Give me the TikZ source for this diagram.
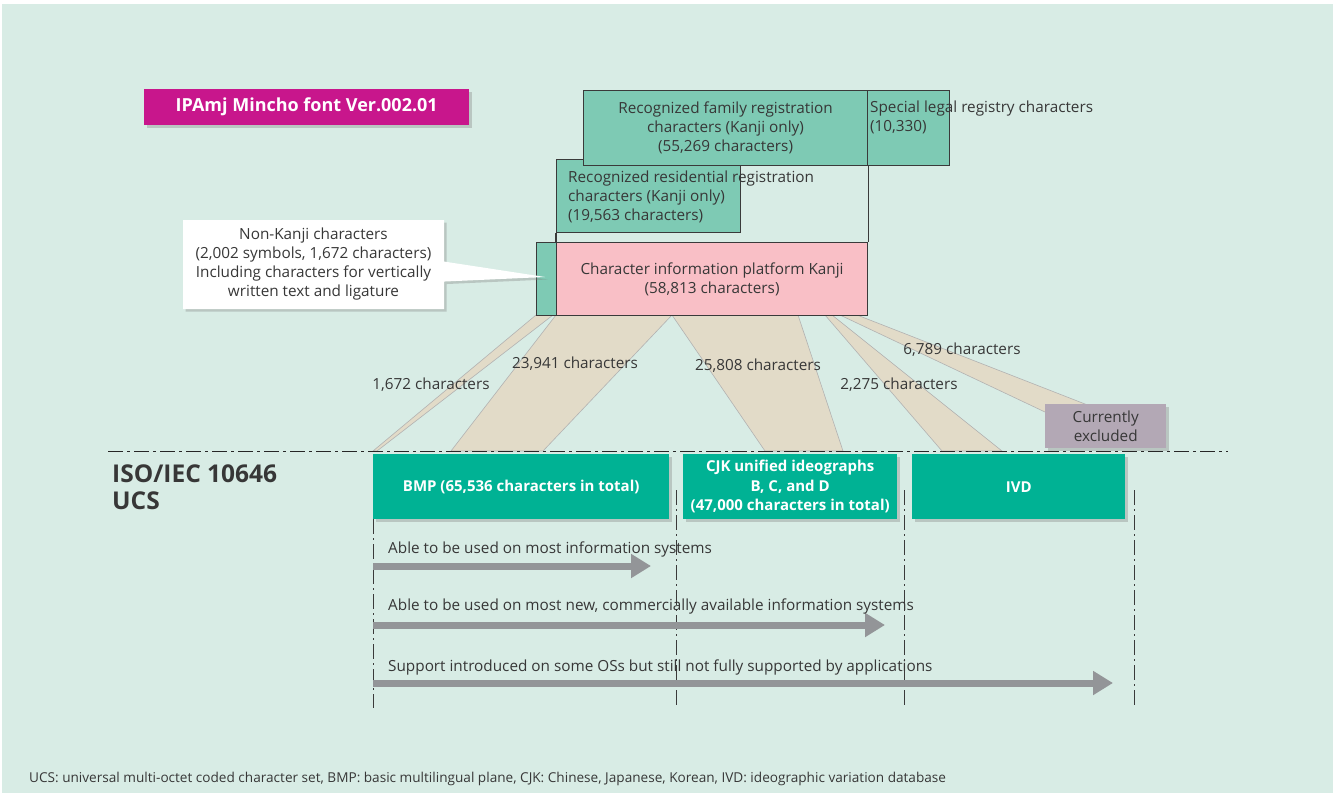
\documentclass[tikz,border=0pt]{standalone}
\usepackage{fontspec}
\setmainfont{Open Sans}
\usetikzlibrary{positioning,arrows.meta,shadows,shapes.callouts}

\definecolor{bgmint}{RGB}{216,236,229}
\definecolor{regteal}{RGB}{126,202,180}
\definecolor{kanjipink}{RGB}{249,191,198}
\definecolor{fanbeige}{RGB}{226,219,200}
\definecolor{ucsteal}{RGB}{0,178,148}
\definecolor{titlemag}{RGB}{200,22,140}
\definecolor{exclmauve}{RGB}{179,168,181}
\definecolor{txtgray}{RGB}{55,55,55}
\definecolor{arrgray}{RGB}{147,149,152}
\definecolor{edgegray}{RGB}{58,58,58}

\newcommand{\bodyfont}{\fontsize{15.3}{19}\selectfont}
\newcommand{\boxfont}{\fontsize{15}{19.5}\selectfont\bfseries}

\tikzset{
  x=1pt, y=-1pt,
  every node/.style={text=txtgray, font=\bodyfont, inner sep=0pt},
  shade/.style={drop shadow={shadow xshift=2.5pt, shadow yshift=-2.5pt, opacity=0.35}},
  regbox/.style={draw=edgegray, line width=1.1pt, fill=regteal, anchor=north west, align=center},
  ucsbox/.style={fill=ucsteal, shade, anchor=north west, align=center, text=white, font=\boxfont},
  fan/.style={fill=fanbeige, draw=black!30, line width=0.6pt},
  rangeline/.style={draw=edgegray, line width=0.9pt, dash pattern=on 15pt off 4pt on 2pt off 4pt},
  ucsline/.style={draw=black!85, line width=1pt, dash pattern=on 15pt off 4pt on 3pt off 4pt},
  support/.style={draw=arrgray, line width=7pt, -{Triangle[width=23pt,length=20pt]}},
  supportlabel/.style={anchor=west},
}

\begin{document}
\begin{tikzpicture}
	\useasboundingbox (0,0) rectangle (1335,793);
	\fill[white] (0,0) rectangle (1335,793);
	\fill[bgmint] (2,4) rectangle (1333,793);

	% flows from the font to the UCS ranges
	\fill[fan] (536,315) -- (553,315) -- (377,451) -- (373,451) -- cycle;
	\fill[fan] (556,315) -- (672,315) -- (543,451) -- (451,451) -- cycle;
	\fill[fan] (672,315) -- (798,315) -- (843,451) -- (765,451) -- cycle;
	\fill[fan] (825,315) -- (832,315) -- (1002,451) -- (942,451) -- cycle;
	\fill[fan] (840,315) -- (857,315) -- (1085,404) -- (1045,412) -- cycle;

	\draw[rangeline] (373,519) -- (373,708);
	\draw[rangeline] (676,490) -- (676,708);
	\draw[rangeline] (904,490) -- (904,708);
	\draw[rangeline] (1134,490) -- (1134,708);
	\draw[ucsline] (108,451) -- (1228,451);

	\node(title) [fill=titlemag, shade, anchor=north west, minimum width=325pt, minimum height=36pt,
	              text=white, font=\fontsize{18}{20}\selectfont\bfseries] at (144,89) {IPAmj Mincho font Ver.002.01};

	\node(res)   [regbox, minimum width=184pt, minimum height=73pt] at (556,159) {};
	\node(fam)   [regbox, minimum width=284pt, minimum height=75pt] at (583,90)
	             {Recognized family registration\\characters (Kanji only)\\(55,269 characters)};
	\node(legal) [regbox, minimum width=82pt, minimum height=75pt] at (867,90) {};
	\node(kanji) [regbox, fill=kanjipink, minimum width=311pt, minimum height=73pt] at (556,242)
	             {Character information platform Kanji\\(58,813 characters)};
	\node(nonk)  [regbox, minimum width=20pt, minimum height=73pt] at (536,242) {};

	\node[anchor=west, align=left] at (870,117.5) {Special legal registry characters\\(10,330)};
	\node[anchor=west, align=left] at (568,197) {Recognized residential registration\\characters (Kanji only)\\(19,563 characters)};

	\draw[edgegray, line width=1.1pt] (res.south west) -- (kanji.north west);
	\draw[edgegray, line width=1.1pt] (fam.south east) -- (kanji.north east);

	\coordinate (tip) at (545,277);
	\node(note) [rectangle callout, callout absolute pointer={(tip)}, callout pointer width=20pt,
	             fill=white, shade, minimum width=261pt, minimum height=89pt, align=center] at (313.5,264.5)
	            {Non-Kanji characters\\(2,002 symbols, 1,672 characters)\\Including characters for vertically\\written text and ligature};

	\node(c1) at (431,385) {1,672 characters};
	\node(c2) at (575,364) {23,941 characters};
	\node(c3) at (758,366) {25,808 characters};
	\node(c4) at (899,385) {2,275 characters};
	\node(c5) at (962,350) {6,789 characters};

	\node(excl) [fill=exclmauve, shade, anchor=north west, minimum width=121pt, minimum height=44pt, align=center]
	            at (1045,404) {Currently\\excluded};

	\node(iso) [anchor=west, align=left, font=\fontsize{24.5}{27}\selectfont\bfseries] at (112,487.5) {ISO/IEC 10646\\UCS};

	\node(bmp) [ucsbox, minimum width=296pt, minimum height=65pt] at (373,454) {BMP (65,536 characters in total)};
	\node(cjk) [ucsbox, minimum width=214pt, minimum height=65pt] at (683,454)
	           {CJK unified ideographs\\B, C, and D\\(47,000 characters in total)};
	\node(ivd) [ucsbox, minimum width=213pt, minimum height=65pt] at (912,454) {IVD};

	\coordinate (s1) at (373,566);
	\coordinate (e1) at (651,566);
	\coordinate (s2) at (373,625);
	\coordinate (e2) at (885,625);
	\coordinate (s3) at (373,683);
	\coordinate (e3) at (1113,683);
	\draw[support] (s1) -- (e1);
	\draw[support] (s2) -- (e2);
	\draw[support] (s3) -- (e3);
	\node(l1) [supportlabel] at (388,549) {Able to be used on most information systems};
	\node(l2) [supportlabel] at (388,606) {Able to be used on most new, commercially available information systems};
	\node(l3) [supportlabel] at (388,667) {Support introduced on some OSs but still not fully supported by applications};

	\node(foot) [anchor=west, font=\fontsize{13.6}{15}\selectfont] at (29,779)
	            {UCS: universal multi-octet coded character set, BMP: basic multilingual plane, CJK: Chinese, Japanese, Korean, IVD: ideographic variation database};
\end{tikzpicture}
\end{document}
